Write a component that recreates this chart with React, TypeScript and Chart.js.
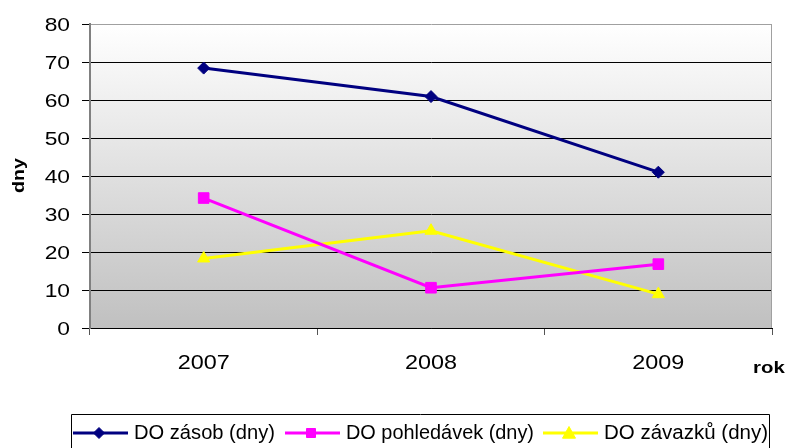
import React, { useEffect, useRef } from 'react';
import { Chart, registerables } from 'chart.js';

Chart.register(...registerables);

const years = ['2007', '2008', '2009'];
const doZasob = [68.4, 60.9, 41.0];
const doPohledavek = [34.2, 10.6, 16.8];
const doZavazku = [18.3, 25.6, 8.9];
const seriesNames = ['DO zásob (dny)', 'DO pohledávek (dny)', 'DO závazků (dny)'];
const yAxisTitle = 'dny';
const xAxisTitle = 'rok';
const Y_MIN = 0;
const Y_MAX = 80;
const Y_STEP = 10;

const FONT = '"Liberation Sans", Arial, sans-serif';

function drawText(ctx: CanvasRenderingContext2D, text: string, x: number, y: number, align: CanvasTextAlign, sx: number) {
  ctx.save();
  ctx.translate(x, y);
  ctx.scale(sx, 1);
  ctx.textAlign = align;
  ctx.textBaseline = 'alphabetic';
  ctx.fillText(text, 0, 0);
  ctx.restore();
}

function drawMarker(ctx: CanvasRenderingContext2D, style: string, x: number, y: number, r: number, color: string) {
  ctx.save();
  ctx.fillStyle = color;
  ctx.strokeStyle = color;
  ctx.lineWidth = 1;
  ctx.beginPath();
  if (style === 'rectRot') {
    ctx.moveTo(x, y - r);
    ctx.lineTo(x + r, y);
    ctx.lineTo(x, y + r);
    ctx.lineTo(x - r, y);
  } else if (style === 'rect') {
    ctx.rect(x - r, y - r, 2 * r, 2 * r);
  } else {
    ctx.moveTo(x, y - r);
    ctx.lineTo(x + r * 1.0, y + r * 0.8);
    ctx.lineTo(x - r * 1.0, y + r * 0.8);
  }
  ctx.closePath();
  ctx.fill();
  ctx.stroke();
  ctx.restore();
}

// layout constants for the custom legend (positions only)
const LEGEND_BOX = { left: 71, top: 414, right: 769 };
const LEGEND_STARTS = [73, 285, 543];
const LEGEND_TEXT_WIDTHS = [141, 188, 164];
const LEGEND_MARKER_R = [5.5, 4.5, 6.5];

const customPlugin = {
  id: 'customDraw',
  beforeDraw(chart: any) {
    const { ctx, chartArea: a } = chart;
    const g = ctx.createLinearGradient(0, a.top, 0, a.bottom);
    g.addColorStop(0, '#ffffff');
    g.addColorStop(1, '#c0c0c0');
    ctx.save();
    ctx.fillStyle = g;
    ctx.fillRect(a.left, a.top, a.right - a.left, a.bottom - a.top);
    ctx.restore();
  },
  afterDraw(chart: any) {
    const { ctx, chartArea: a } = chart;
    // right border of plot area
    ctx.save();
    ctx.strokeStyle = '#a0a0a0';
    ctx.lineWidth = 1;
    ctx.beginPath();
    ctx.moveTo(Math.round(a.right) - 0.5, a.top);
    ctx.lineTo(Math.round(a.right) - 0.5, a.bottom);
    ctx.stroke();
    ctx.restore();

    ctx.save();
    ctx.fillStyle = '#000';
    // y tick labels
    const ys = chart.scales.y;
    ctx.font = `19px ${FONT}`;
    ys.ticks.forEach((t: any) => {
      const y = ys.getPixelForValue(t.value);
      drawText(ctx, String(t.value), 70, y + 6.7, 'right', 1.2);
    });
    // x tick labels
    const xs = chart.scales.x;
    ctx.font = `20px ${FONT}`;
    xs.ticks.forEach((t: any, i: number) => {
      const x = xs.getPixelForTick(i);
      drawText(ctx, String(xs.getLabelForValue(t.value)), x, 369, 'center', 1.17);
    });
    // axis titles
    ctx.font = `bold 17px ${FONT}`;
    drawText(ctx, xAxisTitle, 753, 373, 'left', 1.2);
    ctx.save();
    ctx.translate(24, 175.5);
    ctx.rotate(-Math.PI / 2);
    drawText(ctx, yAxisTitle, 0, 0, 'center', 1.16);
    ctx.restore();

    // legend
    ctx.strokeStyle = '#000';
    ctx.lineWidth = 1;
    ctx.beginPath();
    ctx.moveTo(LEGEND_BOX.left + 0.5, 460);
    ctx.lineTo(LEGEND_BOX.left + 0.5, LEGEND_BOX.top + 0.5);
    ctx.lineTo(LEGEND_BOX.right + 0.5, LEGEND_BOX.top + 0.5);
    ctx.lineTo(LEGEND_BOX.right + 0.5, 460);
    ctx.stroke();

    ctx.font = `20px ${FONT}`;
    chart.data.datasets.forEach((ds: any, i: number) => {
      const sx = LEGEND_STARTS[i];
      const ly = 433;
      ctx.save();
      ctx.strokeStyle = ds.borderColor;
      ctx.lineWidth = 3;
      ctx.beginPath();
      ctx.moveTo(sx, ly);
      ctx.lineTo(sx + 55, ly);
      ctx.stroke();
      ctx.restore();
      drawMarker(ctx, ds.pointStyle, sx + 26, ly, LEGEND_MARKER_R[i], ds.borderColor);
      const natural = ctx.measureText(ds.label).width;
      ctx.fillStyle = '#000';
      drawText(ctx, ds.label, sx + 61, 438.5, 'left', LEGEND_TEXT_WIDTHS[i] / natural);
    });
    ctx.restore();
  },
};

export default function App() {
  const canvasRef = useRef<HTMLCanvasElement | null>(null);

  useEffect(() => {
    if (!canvasRef.current) return;
    const chart = new Chart(canvasRef.current, {
      type: 'line',
      data: {
        labels: years,
        datasets: [
          {
            label: seriesNames[0],
            data: doZasob,
            borderColor: '#000080',
            backgroundColor: '#000080',
            borderWidth: 3,
            pointStyle: 'rectRot',
            pointRadius: 6,
            pointBorderWidth: 1,
            tension: 0,
          },
          {
            label: seriesNames[1],
            data: doPohledavek,
            borderColor: '#ff00ff',
            backgroundColor: '#ff00ff',
            borderWidth: 3,
            pointStyle: 'rect',
            pointRadius: 7.5,
            pointBorderWidth: 1,
            tension: 0,
          },
          {
            label: seriesNames[2],
            data: doZavazku,
            borderColor: '#ffff00',
            backgroundColor: '#ffff00',
            borderWidth: 3,
            pointStyle: 'triangle',
            pointRadius: 7,
            pointBorderWidth: 1,
            tension: 0,
          },
        ],
      },
      options: {
        responsive: false,
        animation: false,
        layout: { padding: { top: 24, right: 16, bottom: 0, left: 0 } },
        plugins: {
          legend: { display: false },
          tooltip: { enabled: false },
        },
        scales: {
          x: {
            offset: true,
            grid: {
              offset: true,
              drawOnChartArea: false,
              drawTicks: true,
              tickLength: 7,
              color: '#555555',
            },
            border: { color: '#000000', width: 1 },
            ticks: { display: false },
            afterFit: (scale: any) => {
              scale.height = 120;
            },
          },
          y: {
            min: Y_MIN,
            max: Y_MAX,
            ticks: { display: false, stepSize: Y_STEP },
            grid: {
              color: (c: any) => (c.tick && c.tick.value === Y_MAX ? '#a0a0a0' : '#000000'),
              tickColor: '#000000',
              tickLength: 8,
              lineWidth: 1,
            },
            border: { color: '#808080', width: 2 },
            afterFit: (scale: any) => {
              scale.width = 90;
            },
          },
        },
      },
      plugins: [customPlugin],
    } as any);
    return () => chart.destroy();
  }, []);

  return (
    <div style={{ position: 'absolute', left: 0, top: 0, width: 788, height: 448, background: '#fff' }}>
      <canvas ref={canvasRef} width={788} height={448} style={{ display: 'block' }} />
    </div>
  );
}
